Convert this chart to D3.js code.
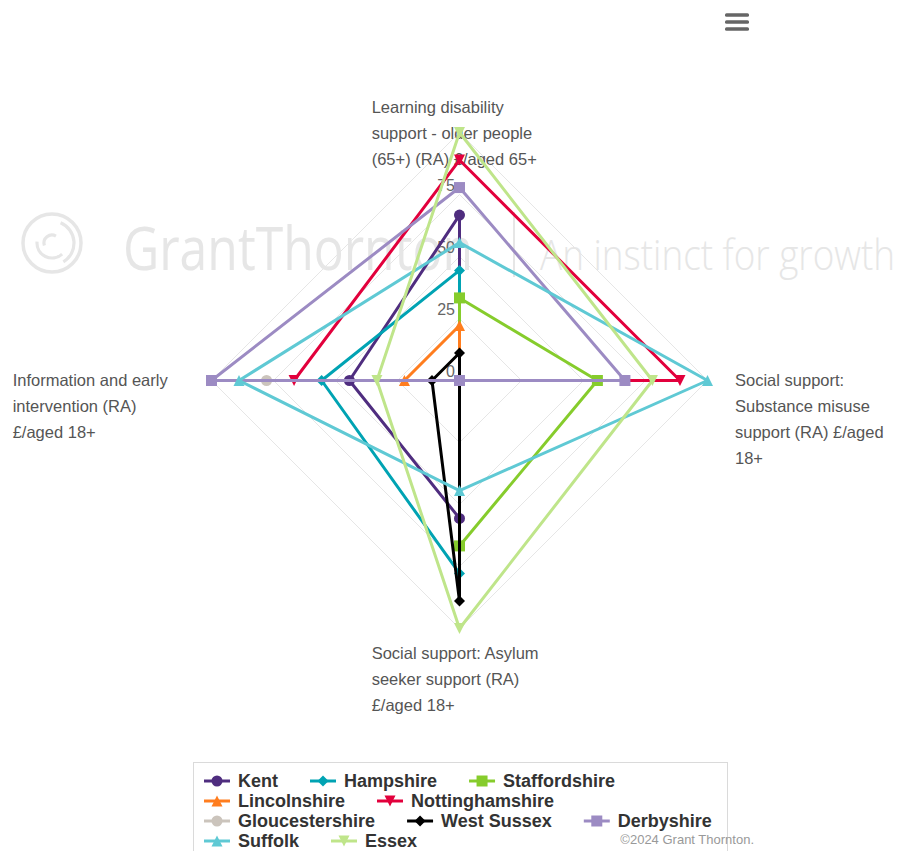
<!DOCTYPE html>
<html>
<head>
<meta charset="utf-8">
<script src="https://cdn.jsdelivr.net/npm/d3@7"></script>
<style>
  html, body { margin: 0; padding: 0; background: #fff; }
  svg { display: block; font-family: "Liberation Sans", Arial, sans-serif; }
</style>
</head>
<body>
<svg id="chart" width="899" height="851"></svg>
<script>
// Category axes, clockwise from the top; each label is split into its display lines
const categoryLines = [
  ["Learning disability", "support - older people", "(65+) (RA) £/aged 65+"],
  ["Social support:", "Substance misuse", "support (RA) £/aged", "18+"],
  ["Social support: Asylum", "seeker support (RA)", "£/aged 18+"],
  ["Information and early", "intervention (RA)", "£/aged 18+"]
];

// Radial axis ticks
const tickValues = [0, 25, 50, 75, 100];
const tickLabels = ["0", "25", "50", "75"];

// Series values, one per category (top, right, bottom, left)
const seriesNames = ["Kent", "Hampshire", "Staffordshire", "Lincolnshire", "Nottinghamshire",
                     "Gloucestershire", "West Sussex", "Derbyshire", "Suffolk", "Essex"];
const kent            = [66.7, 0, 55.6, 44.4];
const hampshire       = [44.4, 0, 77.8, 55.6];
const staffordshire   = [33.3, 55.6, 66.7, 0];
const lincolnshire    = [22.2, 0, 0, 22.2];
const nottinghamshire = [88.9, 88.9, 0, 66.7];
const gloucestershire = [0, 0, 0, 77.8];
const westSussex      = [11.1, 0, 88.9, 11.1];
const derbyshire      = [77.8, 66.7, 0, 100];
const suffolk         = [55.6, 100, 44.4, 88.9];
const essex           = [100, 77.8, 100, 33.3];

const seriesValues = [kent, hampshire, staffordshire, lincolnshire, nottinghamshire,
                      gloucestershire, westSussex, derbyshire, suffolk, essex];
const seriesColors = ["#4F2D7F", "#00A3B3", "#86CC2C", "#FF7D1E", "#E2003C",
                      "#CBC4BC", "#000000", "#9C8BC3", "#5FC9D4", "#BFE58A"];
const symbolCycle = ["circle", "diamond", "square", "triangle", "triangle-down"];

const series = seriesNames.map((name, i) => ({
  name, values: seriesValues[i], color: seriesColors[i], symbol: symbolCycle[i % symbolCycle.length]
}));

const svg = d3.select("#chart");
const cx = 459.5, cy = 380.5, radius = 248;

const rScale = d3.scaleLinear().domain([0, 100]).range([0, radius]);
const angleScale = d3.scalePoint().domain(d3.range(categoryLines.length)).range([0, 2 * Math.PI * 3 / 4]);

function polar(i, v) {
  const a = angleScale(i), r = rScale(v);
  return [cx + r * Math.sin(a), cy - r * Math.cos(a)];
}

// ---- Watermark logo in the background ----
const wm = svg.append("g").attr("class", "watermark");
const wmColor = "#e6e6e6";
wm.append("circle").attr("cx", 52).attr("cy", 243).attr("r", 29)
  .attr("fill", "none").attr("stroke", wmColor).attr("stroke-width", 3.5);
const swirl = d3.arc();
[[0, 22, 0.4, 2.6], [1, 15, 2.4, 4.8], [2, 8, 4.4, 6.8]].forEach(([k, r, a0, a1]) => {
  wm.append("path")
    .attr("transform", `translate(52,243)`)
    .attr("d", swirl({ innerRadius: r - 1.6, outerRadius: r + 1.6, startAngle: a0, endAngle: a1 }))
    .attr("fill", wmColor);
});
wm.append("text").attr("x", 123).attr("y", 270)
  .attr("font-family", "'Open Sans', 'Liberation Sans', sans-serif")
  .attr("font-size", 60).attr("fill", wmColor)
  .attr("textLength", 350).attr("lengthAdjust", "spacingAndGlyphs")
  .text("GrantThornton");
wm.append("line").attr("x1", 514).attr("x2", 514).attr("y1", 212).attr("y2", 277)
  .attr("stroke", wmColor).attr("stroke-width", 2);
wm.append("text").attr("x", 540).attr("y", 270)
  .attr("font-family", "'Open Sans', 'Liberation Sans', sans-serif").attr("font-weight", 300)
  .attr("font-size", 43).attr("fill", wmColor)
  .attr("textLength", 355).attr("lengthAdjust", "spacingAndGlyphs")
  .text("An instinct for growth");

// ---- Polygon grid ----
const gridLine = d3.lineRadial()
  .angle((d, i) => angleScale(i))
  .radius(d => rScale(d))
  .curve(d3.curveLinearClosed);

const grid = svg.append("g").attr("transform", `translate(${cx},${cy})`);
grid.selectAll("path.grid")
  .data(tickValues.filter(t => t > 0))
  .join("path")
  .attr("class", "grid")
  .attr("d", t => gridLine(categoryLines.map(() => t)))
  .attr("fill", "none")
  .attr("stroke", "#e6e6e6")
  .attr("stroke-width", 1);

// ---- Radial tick labels ----
svg.append("g").selectAll("text")
  .data(tickLabels)
  .join("text")
  .attr("x", cx - 4.5)
  .attr("y", (d, i) => cy - rScale(tickValues[i]) - 9)
  .attr("dy", "0.35em")
  .attr("text-anchor", "end")
  .attr("font-size", 16)
  .attr("fill", "#666666")
  .text(d => d);

// ---- Category labels ----
const lineGap = 26;
const labelAnchors = [
  { x: 371.7, y: 107.3 },
  { x: 735, y: 380.7 },
  { x: 371.7, y: 653.3 },
  { x: 12.7, y: 380.7 }
];
categoryLines.forEach((lines, i) => {
  const t = svg.append("text")
    .attr("font-size", 16.5)
    .attr("fill", "#555555");
  lines.forEach((ln, j) => {
    t.append("tspan")
      .attr("x", labelAnchors[i].x)
      .attr("y", labelAnchors[i].y + j * lineGap)
      .attr("dy", "0.35em")
      .text(ln);
  });
});

// ---- Marker symbols ----
function symbolPath(type, x, y, r) {
  switch (type) {
    case "circle":
      return `M${x - r},${y}a${r},${r} 0 1,0 ${2 * r},0a${r},${r} 0 1,0 ${-2 * r},0Z`;
    case "square":
      return `M${x - r},${y - r}h${2 * r}v${2 * r}h${-2 * r}Z`;
    case "diamond":
      return `M${x},${y - r}L${x + r},${y}L${x},${y + r}L${x - r},${y}Z`;
    case "triangle":
      return `M${x},${y - r}L${x + r},${y + r}L${x - r},${y + r}Z`;
    case "triangle-down":
      return `M${x - r},${y - r}L${x + r},${y - r}L${x},${y + r}Z`;
  }
}

// ---- Series ----
const seriesLine = d3.lineRadial()
  .angle((d, i) => angleScale(i))
  .radius(d => rScale(d))
  .curve(d3.curveLinearClosed);

const plot = svg.append("g");
series.forEach(s => {
  const g = plot.append("g");
  g.append("path")
    .attr("transform", `translate(${cx},${cy})`)
    .attr("d", seriesLine(s.values))
    .attr("fill", "none")
    .attr("stroke", s.color)
    .attr("stroke-width", 3)
    .attr("stroke-linejoin", "round");
  g.selectAll("path.marker")
    .data(s.values)
    .join("path")
    .attr("class", "marker")
    .attr("d", (v, i) => { const [x, y] = polar(i, v); return symbolPath(s.symbol, x, y, 5.5); })
    .attr("fill", s.color);
});

// ---- Legend ----
const legendBox = { x: 193.5, y: 762.5, w: 534, h: 100 };
svg.append("rect")
  .attr("x", legendBox.x).attr("y", legendBox.y)
  .attr("width", legendBox.w).attr("height", legendBox.h)
  .attr("fill", "#fff").attr("stroke", "#dadada").attr("stroke-width", 1);

const legend = svg.append("g");
const symW = 26, symGap = 8, itemGap = 32, rowH = 20;
const startX = 204, firstRowY = 781, maxRight = legendBox.x + legendBox.w - 1;
let lx = startX, ly = firstRowY;
series.forEach(s => {
  const item = legend.append("g");
  const label = item.append("text")
    .attr("font-size", 18).attr("font-weight", "bold").attr("fill", "#333333")
    .attr("dy", "0.35em")
    .text(s.name);
  const tw = label.node().getComputedTextLength();
  const width = symW + symGap + tw;
  if (lx > startX && lx + width > maxRight) { lx = startX; ly += rowH; }
  label.attr("x", lx + symW + symGap).attr("y", ly);
  item.append("line")
    .attr("x1", lx).attr("x2", lx + symW).attr("y1", ly).attr("y2", ly)
    .attr("stroke", s.color).attr("stroke-width", 3);
  item.append("path")
    .attr("d", symbolPath(s.symbol, lx + symW / 2, ly, 5.5))
    .attr("fill", s.color);
  lx += width + itemGap;
});

// ---- Credits ----
svg.append("text")
  .attr("x", 754).attr("y", 839)
  .attr("dy", "0.35em")
  .attr("text-anchor", "end")
  .attr("font-size", 13)
  .attr("fill", "#999999")
  .text("©2024 Grant Thornton.");

// ---- Context menu button ----
const menu = svg.append("g");
[15, 22, 29].forEach(y => {
  menu.append("rect")
    .attr("x", 725).attr("y", y - 1.75)
    .attr("width", 24).attr("height", 3.5)
    .attr("rx", 1.5)
    .attr("fill", "#666666");
});
</script>
</body>
</html>
